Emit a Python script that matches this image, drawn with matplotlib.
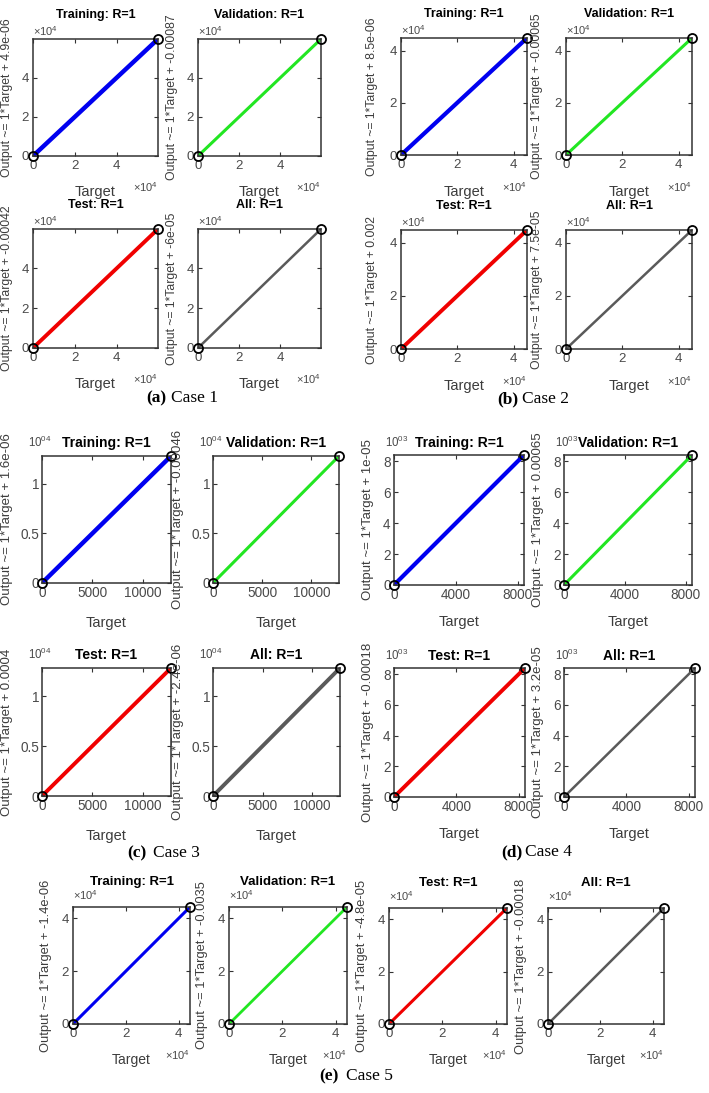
import numpy as np
import matplotlib.pyplot as plt

plt.rcParams['font.family'] = ['Liberation Sans', 'DejaVu Sans']
plt.rcParams['mathtext.fontset'] = 'custom'
plt.rcParams['mathtext.rm'] = 'Liberation Sans'
plt.rcParams['mathtext.it'] = 'Liberation Sans:italic'
plt.rcParams['mathtext.bf'] = 'Liberation Sans:bold'

# regression panels of each case
panels = ['Training', 'Validation', 'Test', 'All']
panel_colors = ['#0000f0', '#22e622', '#f00000', '#5a5a5a']
r_values = ['1', '1', '1', '1']

case_letters = ['(a)', '(b)', '(c)', '(d)', '(e)']
case_names = ['Case 1', 'Case 2', 'Case 3', 'Case 4', 'Case 5']

# fit intercepts (slope is 1 everywhere)
intercepts = [
    ['4.9e-06', '-0.00087', '-0.00042', '-6e-05'],
    ['8.5e-06', '-0.00065', '0.002', '7.5e-05'],
    ['1.6e-06', '-0.00046', '0.0004', '-2.4e-06'],
    ['1e-05', '0.00065', '-0.00018', '3.2e-05'],
    ['-1.4e-06', '-0.0035', '-4.8e-05', '-0.00018'],
]

# target range of each case (min and max sample)
target_min = [0, 0, 0, 0, 0]
target_max = [59700, 44800, 12800, 8400, 44300]

# ticks
x_ticks = [[0, 20000, 40000], [0, 20000, 40000], [0, 5000, 10000],
           [0, 4000, 8000], [0, 20000, 40000]]
x_ticklabels = [['0', '2', '4'], ['0', '2', '4'], ['0', '5000', '10000'],
                ['0', '4000', '8000'], ['0', '2', '4']]
y_ticks = [[0, 20000, 40000], [0, 20000, 40000], [0, 5000, 10000],
           [0, 2000, 4000, 6000, 8000], [0, 20000, 40000]]
y_ticklabels = [['0', '2', '4'], ['0', '2', '4'], ['0', '0.5', '1'],
                ['0', '2', '4', '6', '8'], ['0', '2', '4']]
x_offsets = [r'$\times10^{4}$', r'$\times10^{4}$', None, None, r'$\times10^{4}$']
y_offsets = [r'$\times10^{4}$', r'$\times10^{4}$', r'$10^{04}$', r'$10^{03}$', r'$\times10^{4}$']

# layout in pixels: (left, top, right, bottom) of every axes
W, H = 709, 1093
boxes = [
    [(33, 39, 158, 156), (198, 39, 321, 156), (33, 229, 158, 348), (198, 229, 321, 348)],
    [(401, 38, 527, 155), (566, 38, 692, 155), (401, 230, 527, 349), (566, 230, 692, 349)],
    [(42, 456, 171, 583), (213, 456, 339, 583), (42, 668, 171, 796), (213, 668, 340, 796)],
    [(394, 455, 524, 585), (564, 455, 692, 585), (394, 668, 525, 797), (564, 668, 695, 797)],
    [(73, 907, 190, 1024), (229, 907, 347, 1024), (389, 908, 507, 1024), (548, 908, 664, 1024)],
]
title_sizes = [9, 9, 10, 10, 9.5]
tick_sizes = [9.5, 9.5, 9.8, 9.8, 9.5]
tick_pads = [3, 3, 2, 2.5, 3]
xlabel_sizes = [10.5, 10.5, 10.5, 10.5, 10]
ylabel_sizes = [8.8, 8.8, 9.5, 9.5, 9.3]
title_gap = [24, 24, 13, 12, 25]
ylabel_gap = [20, 23, 29, 20, 21]
xlabel_gap = [29, 30, 33, 30, 29]
yoff_gap = [8, 8, 14, 13, 12]
yoff_shift = [0, 0, -14, -9, 0]
line_widths = [[3.2, 2.2, 2.8, 1.8], [3.0, 2.2, 2.8, 1.8], [3.2, 2.2, 2.8, 2.8],
               [3.0, 2.2, 2.8, 1.8], [2.2, 2.0, 2.2, 1.8]]
caption_pos = [(166, 171, 398), (518, 522, 399), (147, 153, 853), (522, 525, 852), (339, 346, 1076)]

text_gray = '#3c3c3c'
tick_gray = '#4a4a4a'

fig = plt.figure(figsize=(W / 100, H / 100), dpi=100)


def px_axes(box):
    l, t, r, b = box
    return fig.add_axes([l / W, 1 - b / H, (r - l) / W, (b - t) / H])


for i in range(5):
    for j, name in enumerate(panels):
        box = boxes[i][j]
        w_px = box[2] - box[0]
        h_px = box[3] - box[1]
        ax = px_axes(box)
        lo, hi = target_min[i], target_max[i]
        target = np.array([lo, hi])
        b = float(intercepts[i][j])
        ax.plot(target, 1 * target + b, color=panel_colors[j], lw=line_widths[i][j],
                solid_capstyle='butt', zorder=2)
        ax.plot(target, target, 'o', mfc='none', mec='black', ms=6.5, mew=1.3,
                clip_on=False, zorder=3)
        ax.set_xlim(lo, hi)
        ax.set_ylim(lo, hi)
        ax.set_xticks(x_ticks[i])
        ax.set_xticklabels(x_ticklabels[i])
        ax.set_yticks(y_ticks[i])
        ax.set_yticklabels(y_ticklabels[i])
        ax.tick_params(direction='in', length=3, width=0.8, top=True, right=True,
                       labelsize=tick_sizes[i], labelcolor=tick_gray, color='#333333',
                       pad=tick_pads[i])
        for sp in ax.spines.values():
            sp.set_color('#333333')
            sp.set_linewidth(1.1)

        ax.text(0.5, 1 + title_gap[i] / h_px, name + ': R=' + r_values[j],
                transform=ax.transAxes, ha='center', va='center',
                fontsize=title_sizes[i], fontweight='bold', color='black')
        ax.set_xlabel('Target', fontsize=xlabel_sizes[i], color=text_gray)
        ax.xaxis.set_label_coords(0.5, -xlabel_gap[i] / h_px)
        ax.set_ylabel('Output ~= 1*Target + ' + intercepts[i][j],
                      fontsize=ylabel_sizes[i], color=text_gray)
        ax.yaxis.set_label_coords(-ylabel_gap[i] / w_px, 0.5)

        if x_offsets[i] is not None:
            ax.text(1.0, -(xlabel_gap[i] + 2) / h_px, x_offsets[i], transform=ax.transAxes,
                    ha='right', va='center', fontsize=tick_sizes[i] - 1.5, color=tick_gray)
        ax.text(yoff_shift[i] / w_px, 1 + yoff_gap[i] / h_px, y_offsets[i],
                transform=ax.transAxes, ha='left', va='center',
                fontsize=tick_sizes[i] - 1.5, color=tick_gray)

    # sub-figure caption
    xr, xl, yc = caption_pos[i]
    fig.text(xr / W, 1 - yc / H, case_letters[i], ha='right', va='center',
             fontsize=12.5, fontweight='bold', family='Liberation Serif')
    fig.text(xl / W, 1 - yc / H, case_names[i], ha='left', va='center',
             fontsize=12.5, family='Liberation Serif')

fig.savefig('out.png', dpi=100)
